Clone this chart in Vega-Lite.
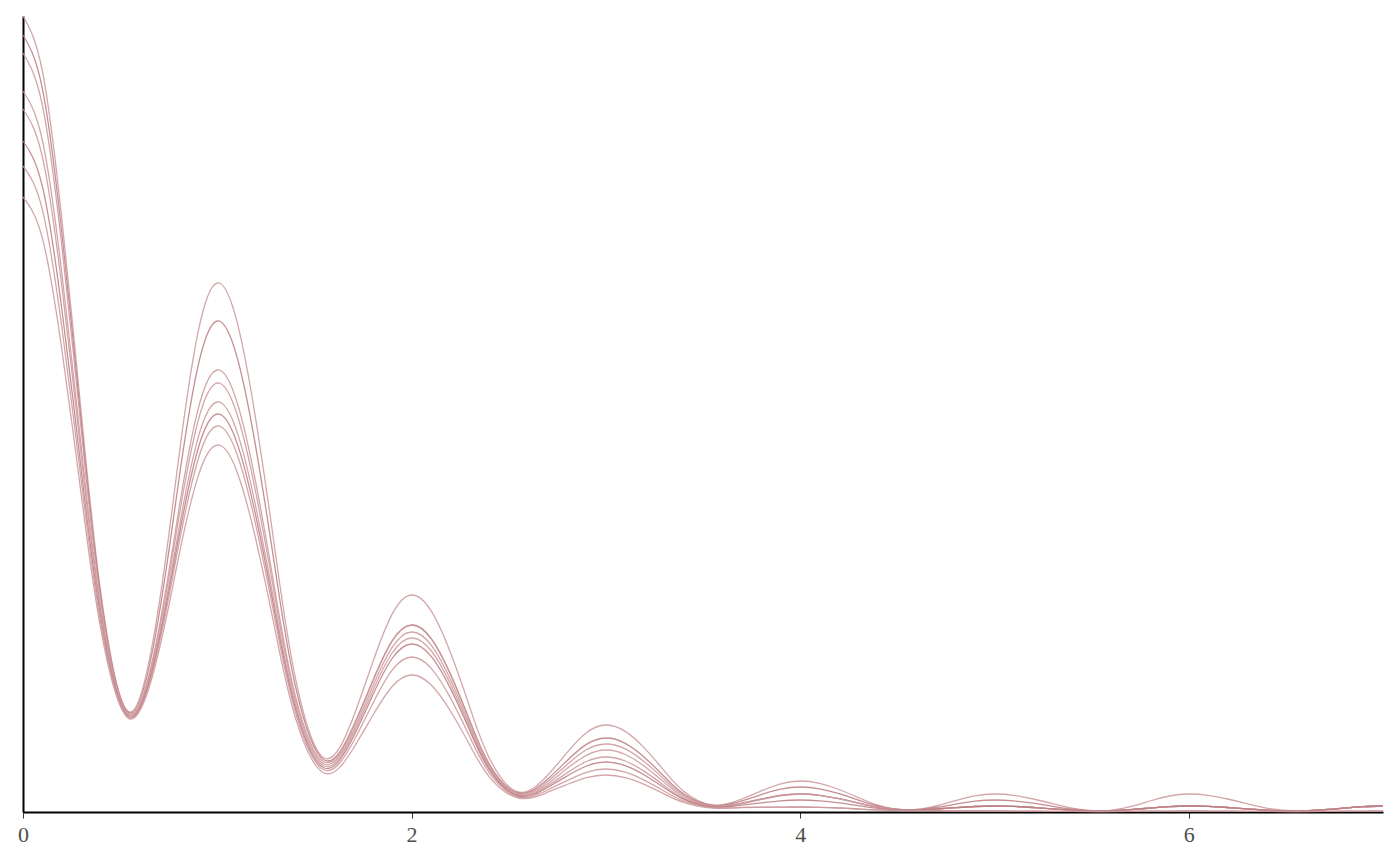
{
"$schema": "https://vega.github.io/schema/vega-lite/v6.json",
"width": 1360, "height": 796,
"autosize": {"type": "none"},
"padding": {"left": 23, "top": 16, "right": 17, "bottom": 54},
"background": "white",
"data": {"values": [
{"s":"a","x":0,"y":796},{"s":"a","x":0.1,"y":740.7},{"s":"a","x":0.2,"y":592.6},{"s":"a","x":0.3,"y":398.5},{"s":"a","x":0.4,"y":220.1},{"s":"a","x":0.55,"y":100},{"s":"a","x":0.7,"y":207.3},{"s":"a","x":0.8,"y":351.7},{"s":"a","x":0.9,"y":478.8},
{"s":"a","x":1,"y":529},{"s":"a","x":1.1,"y":491.3},{"s":"a","x":1.2,"y":390.2},{"s":"a","x":1.3,"y":257.7},{"s":"a","x":1.4,"y":135.9},{"s":"a","x":1.55,"y":54},{"s":"a","x":1.7,"y":94.8},{"s":"a","x":1.8,"y":149.6},{"s":"a","x":1.9,"y":197.9},
{"s":"a","x":2,"y":217},{"s":"a","x":2.1,"y":201.4},{"s":"a","x":2.2,"y":159.4},{"s":"a","x":2.3,"y":104.5},{"s":"a","x":2.4,"y":54},{"s":"a","x":2.55,"y":20},{"s":"a","x":2.7,"y":36.8},{"s":"a","x":2.8,"y":59.3},{"s":"a","x":2.9,"y":79.2},
{"s":"a","x":3,"y":87},{"s":"a","x":3.1,"y":80.6},{"s":"a","x":3.2,"y":63.6},{"s":"a","x":3.3,"y":41.3},{"s":"a","x":3.4,"y":20.8},{"s":"a","x":3.55,"y":7},{"s":"a","x":3.7,"y":13},{"s":"a","x":3.8,"y":21.1},{"s":"a","x":3.9,"y":28.2},
{"s":"a","x":4,"y":31},{"s":"a","x":4.1,"y":28.7},{"s":"a","x":4.2,"y":22.5},{"s":"a","x":4.3,"y":14.4},{"s":"a","x":4.4,"y":7},{"s":"a","x":4.55,"y":2},{"s":"a","x":4.7,"y":6},{"s":"a","x":4.8,"y":11.4},{"s":"a","x":4.9,"y":16.1},
{"s":"a","x":5,"y":18},{"s":"a","x":5.1,"y":16.7},{"s":"a","x":5.2,"y":13},{"s":"a","x":5.3,"y":8.3},{"s":"a","x":5.4,"y":3.9},{"s":"a","x":5.55,"y":1},{"s":"a","x":5.7,"y":5.3},{"s":"a","x":5.8,"y":11},{"s":"a","x":5.9,"y":16},
{"s":"a","x":6,"y":18},{"s":"a","x":6.1,"y":16.7},{"s":"a","x":6.2,"y":13},{"s":"a","x":6.3,"y":8.3},{"s":"a","x":6.4,"y":3.9},{"s":"a","x":6.55,"y":1},{"s":"a","x":6.7,"y":2.3},{"s":"a","x":6.8,"y":3.9},{"s":"a","x":6.9,"y":5.4},{"s":"a","x":7,"y":6},

{"s":"b","x":0,"y":777},{"s":"b","x":0.1,"y":723.2},{"s":"b","x":0.2,"y":578.8},{"s":"b","x":0.3,"y":389.8},{"s":"b","x":0.4,"y":216},{"s":"b","x":0.55,"y":99},{"s":"b","x":0.7,"y":197},{"s":"b","x":0.8,"y":329},{"s":"b","x":0.9,"y":445.1},
{"s":"b","x":1,"y":491},{"s":"b","x":1.1,"y":456.1},{"s":"b","x":1.2,"y":362.7},{"s":"b","x":1.3,"y":240.3},{"s":"b","x":1.4,"y":127.7},{"s":"b","x":1.55,"y":52},{"s":"b","x":1.7,"y":85.8},{"s":"b","x":1.8,"y":131.2},{"s":"b","x":1.9,"y":171.2},
{"s":"b","x":2,"y":187},{"s":"b","x":2.1,"y":173.7},{"s":"b","x":2.2,"y":137.9},{"s":"b","x":2.3,"y":91.1},{"s":"b","x":2.4,"y":48},{"s":"b","x":2.55,"y":19},{"s":"b","x":2.7,"y":32.8},{"s":"b","x":2.8,"y":51.3},{"s":"b","x":2.9,"y":67.6},
{"s":"b","x":3,"y":74},{"s":"b","x":3.1,"y":68.6},{"s":"b","x":3.2,"y":54.3},{"s":"b","x":3.3,"y":35.5},{"s":"b","x":3.4,"y":18.1},{"s":"b","x":3.55,"y":6.5},{"s":"b","x":3.7,"y":11.1},{"s":"b","x":3.8,"y":17.4},{"s":"b","x":3.9,"y":22.8},
{"s":"b","x":4,"y":25},{"s":"b","x":4.1,"y":23.2},{"s":"b","x":4.2,"y":18.3},{"s":"b","x":4.3,"y":11.9},{"s":"b","x":4.4,"y":6},{"s":"b","x":4.55,"y":2},{"s":"b","x":4.7,"y":4.5},{"s":"b","x":4.8,"y":7.9},{"s":"b","x":4.9,"y":10.8},
{"s":"b","x":5,"y":12},{"s":"b","x":5.1,"y":11.1},{"s":"b","x":5.2,"y":8.8},{"s":"b","x":5.3,"y":5.7},{"s":"b","x":5.4,"y":2.9},{"s":"b","x":5.55,"y":1},{"s":"b","x":5.7,"y":2.3},{"s":"b","x":5.8,"y":3.9},{"s":"b","x":5.9,"y":5.4},
{"s":"b","x":6,"y":6},{"s":"b","x":6.1,"y":5.6},{"s":"b","x":6.2,"y":4.5},{"s":"b","x":6.3,"y":3.1},{"s":"b","x":6.4,"y":1.9},{"s":"b","x":6.55,"y":1},{"s":"b","x":6.7,"y":2.3},{"s":"b","x":6.8,"y":3.9},{"s":"b","x":6.9,"y":5.4},{"s":"b","x":7,"y":6},

{"s":"c","x":0,"y":759},{"s":"c","x":0.1,"y":706.5},{"s":"c","x":0.2,"y":565.8},{"s":"c","x":0.3,"y":381.5},{"s":"c","x":0.4,"y":212},{"s":"c","x":0.55,"y":98},{"s":"c","x":0.7,"y":184},{"s":"c","x":0.8,"y":299.9},{"s":"c","x":0.9,"y":401.8},
{"s":"c","x":1,"y":442},{"s":"c","x":1.1,"y":410.9},{"s":"c","x":1.2,"y":327.4},{"s":"c","x":1.3,"y":218.1},{"s":"c","x":1.4,"y":117.6},{"s":"c","x":1.55,"y":50},{"s":"c","x":1.7,"y":84.3},{"s":"c","x":1.8,"y":130.4},{"s":"c","x":1.9,"y":171},
{"s":"c","x":2,"y":187},{"s":"c","x":2.1,"y":173.6},{"s":"c","x":2.2,"y":137.6},{"s":"c","x":2.3,"y":90.5},{"s":"c","x":2.4,"y":47.2},{"s":"c","x":2.55,"y":18},{"s":"c","x":2.7,"y":30.5},{"s":"c","x":2.8,"y":47.3},{"s":"c","x":2.9,"y":62.2},
{"s":"c","x":3,"y":68},{"s":"c","x":3.1,"y":63.1},{"s":"c","x":3.2,"y":49.9},{"s":"c","x":3.3,"y":32.6},{"s":"c","x":3.4,"y":16.7},{"s":"c","x":3.55,"y":6},{"s":"c","x":3.7,"y":9},{"s":"c","x":3.8,"y":13},{"s":"c","x":3.9,"y":16.6},
{"s":"c","x":4,"y":18},{"s":"c","x":4.1,"y":16.7},{"s":"c","x":4.2,"y":13.3},{"s":"c","x":4.3,"y":8.9},{"s":"c","x":4.4,"y":4.8},{"s":"c","x":4.55,"y":2},{"s":"c","x":4.7,"y":3},{"s":"c","x":4.8,"y":4.3},{"s":"c","x":4.9,"y":5.5},
{"s":"c","x":5,"y":6},{"s":"c","x":5.1,"y":5.6},{"s":"c","x":5.2,"y":4.5},{"s":"c","x":5.3,"y":3.1},{"s":"c","x":5.4,"y":1.9},{"s":"c","x":5.55,"y":1},{"s":"c","x":5.7,"y":2.3},{"s":"c","x":5.8,"y":3.9},{"s":"c","x":5.9,"y":5.4},
{"s":"c","x":6,"y":6},{"s":"c","x":6.1,"y":5.6},{"s":"c","x":6.2,"y":4.5},{"s":"c","x":6.3,"y":3.1},{"s":"c","x":6.4,"y":1.9},{"s":"c","x":6.55,"y":1},{"s":"c","x":6.7,"y":2.3},{"s":"c","x":6.8,"y":3.9},{"s":"c","x":6.9,"y":5.4},{"s":"c","x":7,"y":6},

{"s":"d","x":0,"y":721},{"s":"d","x":0.1,"y":671.5},{"s":"d","x":0.2,"y":538.6},{"s":"d","x":0.3,"y":364.6},{"s":"d","x":0.4,"y":204.6},{"s":"d","x":0.55,"y":97},{"s":"d","x":0.7,"y":180},{"s":"d","x":0.8,"y":291.8},{"s":"d","x":0.9,"y":390.2},
{"s":"d","x":1,"y":429},{"s":"d","x":1.1,"y":398.7},{"s":"d","x":1.2,"y":317.6},{"s":"d","x":1.3,"y":211.4},{"s":"d","x":1.4,"y":113.7},{"s":"d","x":1.55,"y":48},{"s":"d","x":1.7,"y":81},{"s":"d","x":1.8,"y":125.5},{"s":"d","x":1.9,"y":164.6},
{"s":"d","x":2,"y":180},{"s":"d","x":2.1,"y":167.1},{"s":"d","x":2.2,"y":132.4},{"s":"d","x":2.3,"y":86.9},{"s":"d","x":2.4,"y":45.1},{"s":"d","x":2.55,"y":17},{"s":"d","x":2.7,"y":28.3},{"s":"d","x":2.8,"y":43.4},{"s":"d","x":2.9,"y":56.7},
{"s":"d","x":3,"y":62},{"s":"d","x":3.1,"y":57.5},{"s":"d","x":3.2,"y":45.5},{"s":"d","x":3.3,"y":29.7},{"s":"d","x":3.4,"y":15.2},{"s":"d","x":3.55,"y":5.5},{"s":"d","x":3.7,"y":8.6},{"s":"d","x":3.8,"y":12.8},{"s":"d","x":3.9,"y":16.5},
{"s":"d","x":4,"y":18},{"s":"d","x":4.1,"y":16.7},{"s":"d","x":4.2,"y":13.3},{"s":"d","x":4.3,"y":8.9},{"s":"d","x":4.4,"y":4.8},{"s":"d","x":4.55,"y":2},{"s":"d","x":4.7,"y":3},{"s":"d","x":4.8,"y":4.3},{"s":"d","x":4.9,"y":5.5},
{"s":"d","x":5,"y":6},{"s":"d","x":5.1,"y":5.6},{"s":"d","x":5.2,"y":4.5},{"s":"d","x":5.3,"y":3.1},{"s":"d","x":5.4,"y":1.9},{"s":"d","x":5.55,"y":1},{"s":"d","x":5.7,"y":2.3},{"s":"d","x":5.8,"y":3.9},{"s":"d","x":5.9,"y":5.4},
{"s":"d","x":6,"y":6},{"s":"d","x":6.1,"y":5.6},{"s":"d","x":6.2,"y":4.5},{"s":"d","x":6.3,"y":3.1},{"s":"d","x":6.4,"y":1.9},{"s":"d","x":6.55,"y":1},{"s":"d","x":6.7,"y":2.3},{"s":"d","x":6.8,"y":3.9},{"s":"d","x":6.9,"y":5.4},{"s":"d","x":7,"y":6},

{"s":"e","x":0,"y":703},{"s":"e","x":0.1,"y":654.8},{"s":"e","x":0.2,"y":525.6},{"s":"e","x":0.3,"y":356.3},{"s":"e","x":0.4,"y":200.7},{"s":"e","x":0.55,"y":96},{"s":"e","x":0.7,"y":174.5},{"s":"e","x":0.8,"y":280.3},{"s":"e","x":0.9,"y":373.3},
{"s":"e","x":1,"y":410},{"s":"e","x":1.1,"y":381.1},{"s":"e","x":1.2,"y":303.6},{"s":"e","x":1.3,"y":202.1},{"s":"e","x":1.4,"y":108.8},{"s":"e","x":1.55,"y":46},{"s":"e","x":1.7,"y":78},{"s":"e","x":1.8,"y":121.1},{"s":"e","x":1.9,"y":159},
{"s":"e","x":2,"y":174},{"s":"e","x":2.1,"y":161.5},{"s":"e","x":2.2,"y":128},{"s":"e","x":2.3,"y":84.1},{"s":"e","x":2.4,"y":43.7},{"s":"e","x":2.55,"y":16.5},{"s":"e","x":2.7,"y":26.1},{"s":"e","x":2.8,"y":39.1},{"s":"e","x":2.9,"y":50.5},
{"s":"e","x":3,"y":55},{"s":"e","x":3.1,"y":51},{"s":"e","x":3.2,"y":40.4},{"s":"e","x":3.3,"y":26.4},{"s":"e","x":3.4,"y":13.6},{"s":"e","x":3.55,"y":5},{"s":"e","x":3.7,"y":8.3},{"s":"e","x":3.8,"y":12.6},{"s":"e","x":3.9,"y":16.5},
{"s":"e","x":4,"y":18},{"s":"e","x":4.1,"y":16.7},{"s":"e","x":4.2,"y":13.3},{"s":"e","x":4.3,"y":8.9},{"s":"e","x":4.4,"y":4.8},{"s":"e","x":4.55,"y":2},{"s":"e","x":4.7,"y":3},{"s":"e","x":4.8,"y":4.3},{"s":"e","x":4.9,"y":5.5},
{"s":"e","x":5,"y":6},{"s":"e","x":5.1,"y":5.6},{"s":"e","x":5.2,"y":4.5},{"s":"e","x":5.3,"y":3.1},{"s":"e","x":5.4,"y":1.9},{"s":"e","x":5.55,"y":1},{"s":"e","x":5.7,"y":2.3},{"s":"e","x":5.8,"y":3.9},{"s":"e","x":5.9,"y":5.4},
{"s":"e","x":6,"y":6},{"s":"e","x":6.1,"y":5.6},{"s":"e","x":6.2,"y":4.5},{"s":"e","x":6.3,"y":3.1},{"s":"e","x":6.4,"y":1.9},{"s":"e","x":6.55,"y":1},{"s":"e","x":6.7,"y":2.3},{"s":"e","x":6.8,"y":3.9},{"s":"e","x":6.9,"y":5.4},{"s":"e","x":7,"y":6},

{"s":"f","x":0,"y":671},{"s":"f","x":0.1,"y":625.3},{"s":"f","x":0.2,"y":502.6},{"s":"f","x":0.3,"y":342},{"s":"f","x":0.4,"y":194.4},{"s":"f","x":0.55,"y":95},{"s":"f","x":0.7,"y":170.8},{"s":"f","x":0.8,"y":272.8},{"s":"f","x":0.9,"y":362.5},
{"s":"f","x":1,"y":398},{"s":"f","x":1.1,"y":369.9},{"s":"f","x":1.2,"y":294.5},{"s":"f","x":1.3,"y":195.8},{"s":"f","x":1.4,"y":105.1},{"s":"f","x":1.55,"y":44},{"s":"f","x":1.7,"y":75},{"s":"f","x":1.8,"y":116.8},{"s":"f","x":1.9,"y":153.5},
{"s":"f","x":2,"y":168},{"s":"f","x":2.1,"y":155.9},{"s":"f","x":2.2,"y":123.6},{"s":"f","x":2.3,"y":81.2},{"s":"f","x":2.4,"y":42.2},{"s":"f","x":2.55,"y":16},{"s":"f","x":2.7,"y":24.5},{"s":"f","x":2.8,"y":36},{"s":"f","x":2.9,"y":46},
{"s":"f","x":3,"y":50},{"s":"f","x":3.1,"y":46.4},{"s":"f","x":3.2,"y":36.8},{"s":"f","x":3.3,"y":24.3},{"s":"f","x":3.4,"y":12.8},{"s":"f","x":3.55,"y":5},{"s":"f","x":3.7,"y":6.8},{"s":"f","x":3.8,"y":9.1},{"s":"f","x":3.9,"y":11.2},
{"s":"f","x":4,"y":12},{"s":"f","x":4.1,"y":11.2},{"s":"f","x":4.2,"y":9.1},{"s":"f","x":4.3,"y":6.3},{"s":"f","x":4.4,"y":3.7},{"s":"f","x":4.55,"y":2},{"s":"f","x":4.7,"y":3},{"s":"f","x":4.8,"y":4.3},{"s":"f","x":4.9,"y":5.5},
{"s":"f","x":5,"y":6},{"s":"f","x":5.1,"y":5.6},{"s":"f","x":5.2,"y":4.5},{"s":"f","x":5.3,"y":3.1},{"s":"f","x":5.4,"y":1.9},{"s":"f","x":5.55,"y":1},{"s":"f","x":5.7,"y":2.3},{"s":"f","x":5.8,"y":3.9},{"s":"f","x":5.9,"y":5.4},
{"s":"f","x":6,"y":6},{"s":"f","x":6.1,"y":5.6},{"s":"f","x":6.2,"y":4.5},{"s":"f","x":6.3,"y":3.1},{"s":"f","x":6.4,"y":1.9},{"s":"f","x":6.55,"y":1},{"s":"f","x":6.7,"y":2.3},{"s":"f","x":6.8,"y":3.9},{"s":"f","x":6.9,"y":5.4},{"s":"f","x":7,"y":6},

{"s":"g","x":0,"y":646},{"s":"g","x":0.1,"y":602.2},{"s":"g","x":0.2,"y":484.7},{"s":"g","x":0.3,"y":330.8},{"s":"g","x":0.4,"y":189.2},{"s":"g","x":0.55,"y":94},{"s":"g","x":0.7,"y":167},{"s":"g","x":0.8,"y":265.3},{"s":"g","x":0.9,"y":351.8},
{"s":"g","x":1,"y":386},{"s":"g","x":1.1,"y":358.7},{"s":"g","x":1.2,"y":285.4},{"s":"g","x":1.3,"y":189.5},{"s":"g","x":1.4,"y":101.3},{"s":"g","x":1.55,"y":42},{"s":"g","x":1.7,"y":70.3},{"s":"g","x":1.8,"y":108.3},{"s":"g","x":1.9,"y":141.8},
{"s":"g","x":2,"y":155},{"s":"g","x":2.1,"y":143.9},{"s":"g","x":2.2,"y":114.1},{"s":"g","x":2.3,"y":75},{"s":"g","x":2.4,"y":39.2},{"s":"g","x":2.55,"y":15},{"s":"g","x":2.7,"y":22},{"s":"g","x":2.8,"y":31.4},{"s":"g","x":2.9,"y":39.7},
{"s":"g","x":3,"y":43},{"s":"g","x":3.1,"y":39.9},{"s":"g","x":3.2,"y":31.7},{"s":"g","x":3.3,"y":21},{"s":"g","x":3.4,"y":11.1},{"s":"g","x":3.55,"y":4.5},{"s":"g","x":3.7,"y":4.6},{"s":"g","x":3.8,"y":4.8},{"s":"g","x":3.9,"y":4.9},
{"s":"g","x":4,"y":5},{"s":"g","x":4.1,"y":4.7},{"s":"g","x":4.2,"y":4},{"s":"g","x":4.3,"y":3},{"s":"g","x":4.4,"y":2.1},{"s":"g","x":4.55,"y":1.5},{"s":"g","x":4.7,"y":1.4},{"s":"g","x":4.8,"y":1.2},{"s":"g","x":4.9,"y":1.1},
{"s":"g","x":5,"y":1},{"s":"g","x":5.1,"y":0.96},{"s":"g","x":5.2,"y":0.85},{"s":"g","x":5.3,"y":0.71},{"s":"g","x":5.4,"y":0.59},{"s":"g","x":5.55,"y":0.5},{"s":"g","x":5.7,"y":0.63},{"s":"g","x":5.8,"y":0.79},{"s":"g","x":5.9,"y":0.94},
{"s":"g","x":6,"y":1},{"s":"g","x":6.1,"y":0.96},{"s":"g","x":6.2,"y":0.85},{"s":"g","x":6.3,"y":0.71},{"s":"g","x":6.4,"y":0.59},{"s":"g","x":6.55,"y":0.5},{"s":"g","x":6.7,"y":0.63},{"s":"g","x":6.8,"y":0.79},{"s":"g","x":6.9,"y":0.94},{"s":"g","x":7,"y":1},

{"s":"h","x":0,"y":615},{"s":"h","x":0.1,"y":573.6},{"s":"h","x":0.2,"y":462.4},{"s":"h","x":0.3,"y":316.9},{"s":"h","x":0.4,"y":183},{"s":"h","x":0.55,"y":93},{"s":"h","x":0.7,"y":161.5},{"s":"h","x":0.8,"y":253.8},{"s":"h","x":0.9,"y":334.9},
{"s":"h","x":1,"y":367},{"s":"h","x":1.1,"y":341},{"s":"h","x":1.2,"y":271.1},{"s":"h","x":1.3,"y":179.7},{"s":"h","x":1.4,"y":95.6},{"s":"h","x":1.55,"y":39},{"s":"h","x":1.7,"y":63.5},{"s":"h","x":1.8,"y":96.5},{"s":"h","x":1.9,"y":125.5},
{"s":"h","x":2,"y":137},{"s":"h","x":2.1,"y":127.2},{"s":"h","x":2.2,"y":101},{"s":"h","x":2.3,"y":66.8},{"s":"h","x":2.4,"y":35.2},{"s":"h","x":2.55,"y":14},{"s":"h","x":2.7,"y":19.8},{"s":"h","x":2.8,"y":27.5},{"s":"h","x":2.9,"y":34.3},
{"s":"h","x":3,"y":37},{"s":"h","x":3.1,"y":34.4},{"s":"h","x":3.2,"y":27.4},{"s":"h","x":3.3,"y":18.2},{"s":"h","x":3.4,"y":9.7},{"s":"h","x":3.55,"y":4},{"s":"h","x":3.7,"y":4.3},{"s":"h","x":3.8,"y":4.6},{"s":"h","x":3.9,"y":4.9},
{"s":"h","x":4,"y":5},{"s":"h","x":4.1,"y":4.7},{"s":"h","x":4.2,"y":4},{"s":"h","x":4.3,"y":3},{"s":"h","x":4.4,"y":2.1},{"s":"h","x":4.55,"y":1.5},{"s":"h","x":4.7,"y":1.4},{"s":"h","x":4.8,"y":1.2},{"s":"h","x":4.9,"y":1.1},
{"s":"h","x":5,"y":1},{"s":"h","x":5.1,"y":0.96},{"s":"h","x":5.2,"y":0.85},{"s":"h","x":5.3,"y":0.71},{"s":"h","x":5.4,"y":0.59},{"s":"h","x":5.55,"y":0.5},{"s":"h","x":5.7,"y":0.63},{"s":"h","x":5.8,"y":0.79},{"s":"h","x":5.9,"y":0.94},
{"s":"h","x":6,"y":1},{"s":"h","x":6.1,"y":0.96},{"s":"h","x":6.2,"y":0.85},{"s":"h","x":6.3,"y":0.71},{"s":"h","x":6.4,"y":0.59},{"s":"h","x":6.55,"y":0.5},{"s":"h","x":6.7,"y":0.63},{"s":"h","x":6.8,"y":0.79},{"s":"h","x":6.9,"y":0.94},{"s":"h","x":7,"y":1}
]},
"mark": {"type": "line", "interpolate": "natural", "strokeWidth": 1.3, "strokeOpacity": 0.85},
"encoding": {
  "x": {"field": "x", "type": "quantitative",
        "scale": {"domain": [0, 7], "nice": false, "zero": false},
        "axis": {"values": [0, 2, 4, 6], "title": null, "grid": false, "format": "d", "labelFlush": false,
                 "domainColor": "#000000", "domainWidth": 2,
                 "tickColor": "#333333", "tickSize": 6, "tickWidth": 1,
                 "labelFont": "Liberation Serif", "labelFontSize": 22, "labelColor": "#4d4d4d", "labelPadding": 6}},
  "y": {"field": "y", "type": "quantitative",
        "scale": {"domain": [0, 796], "nice": false},
        "axis": {"title": null, "grid": false, "ticks": false, "labels": false,
                 "domainColor": "#000000", "domainWidth": 2}},
  "color": {"field": "s", "type": "nominal",
            "scale": {"domain": ["a","b","c","d","e","f","g","h"],
                      "range": ["#cb969a","#bb7a80","#cb969a","#cb969a","#cb969a","#bb7a80","#cb969a","#cb969a"]},
            "legend": null}
},
"config": {"view": {"stroke": null}}
}
